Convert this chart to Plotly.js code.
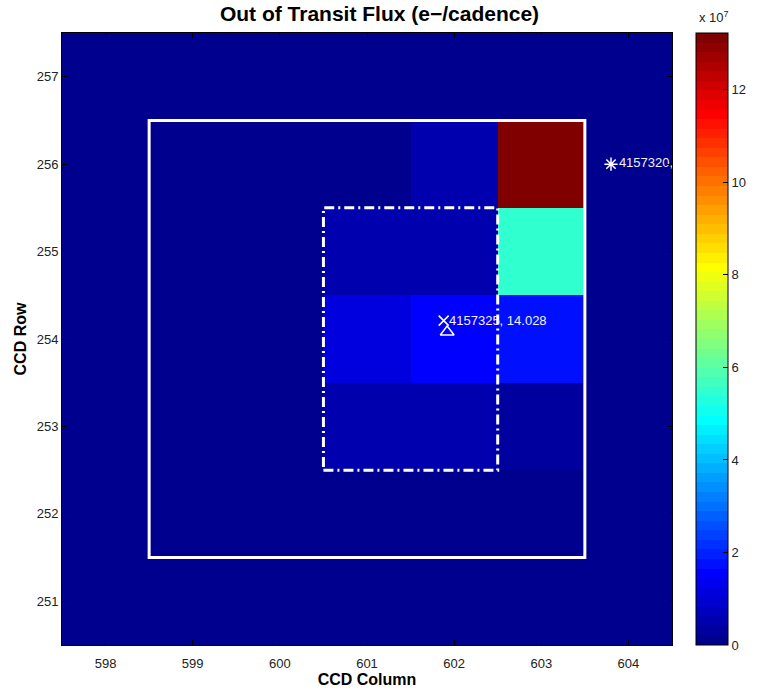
<!DOCTYPE html>
<html>
<head>
<meta charset="utf-8">
<script src="https://cdn.plot.ly/plotly-3.0.1.min.js"></script>
<style>html,body{margin:0;padding:0;background:#fff;}#chart{width:759px;height:690px;}</style>
</head>
<body>
<div id="chart"></div>
<script>
// ---- data ----
const ccdColumns = [598, 599, 600, 601, 602, 603, 604];
const ccdRows = [251, 252, 253, 254, 255, 256, 257];
const row251 = [2.1e5, 2.3e5, 2.4e5, 2.6e5, 2.5e5, 2.7e5, 2.2e5];
const row252 = [2.3e5, 3.1e5, 4.0e5, 6.2e5, 7.5e5, 8.1e5, 3.0e5];
const row253 = [2.5e5, 3.4e5, 6.8e5, 4.9e6, 5.4e6, 3.0e6, 3.6e5];
const row254 = [3.0e5, 4.0e5, 1.2e6, 1.05e7, 1.55e7, 1.8e7, 3.5e5];
const row255 = [2.8e5, 3.6e5, 9.0e5, 5.1e6, 5.3e6, 5.5e7, 4.0e5];
const row256 = [2.5e5, 3.3e5, 6.0e5, 1.6e6, 4.8e6, 1.323e8, 5.0e5];
const row257 = [2.2e5, 2.5e5, 2.7e5, 3.0e5, 3.2e5, 3.9e5, 2.9e5];
const fluxMax = 1.323e8;
const cbTickVals = [0, 2e7, 4e7, 6e7, 8e7, 10e7, 12e7];
const cbTickText = ['0', '2', '4', '6', '8', '10', '12'];
const targetCol = [601.88];
const targetRow = [254.21];
const targetLabel = ['4157325, 14.028'];
const centroidCol = [601.92];
const centroidRow = [254.08];
const neighborCol = [603.80];
const neighborRow = [256.0];
const neighborLabel = ['4157320,'];
const apertureBox = {x0: 598.5, x1: 603.5, y0: 251.5, y1: 256.5};
const optimalBox = {x0: 600.5, x1: 602.5, y0: 252.5, y1: 255.5};

// MATLAB jet(64)
function jet(m) {
  const n = Math.ceil(m / 4);
  const u = [];
  for (let i = 1; i <= n; i++) u.push(i / n);
  for (let i = 1; i < n; i++) u.push(1);
  for (let i = n; i >= 1; i--) u.push(i / n);
  const off = Math.ceil(n / 2) - (m % 4 === 1 ? 1 : 0);
  let g = u.map((_, k) => off + k + 1);
  let r = g.map(v => v + n).filter(v => v <= m);
  let b = g.map(v => v - n).filter(v => v >= 1);
  g = g.filter(v => v <= m);
  const J = Array.from({length: m}, () => [0, 0, 0]);
  r.forEach((idx, k) => { J[idx - 1][0] = u[k]; });
  g.forEach((idx, k) => { J[idx - 1][1] = u[k]; });
  b.forEach((idx, k) => { J[idx - 1][2] = u[u.length - b.length + k]; });
  return J;
}
const J = jet(64);
const colorscale = [];
J.forEach((c, i) => {
  const col = 'rgb(' + c.map(v => Math.round(v * 255)).join(',') + ')';
  colorscale.push([i / 64, col]);
  colorscale.push([(i + 1) / 64, col]);
});

const font = 'Liberation Sans, Arial, Helvetica, sans-serif';

const traces = [
  {
    type: 'heatmap',
    x: ccdColumns,
    y: ccdRows,
    z: [row251, row252, row253, row254, row255, row256, row257],
    zmin: 0, zmax: fluxMax,
    colorscale: colorscale,
    zsmooth: false,
    hoverinfo: 'skip',
    colorbar: {
      x: 1.0393, xanchor: 'left', xref: 'paper',
      y: 0.5, yanchor: 'middle', len: 1, lenmode: 'fraction',
      thickness: 32, thicknessmode: 'pixels',
      outlinewidth: 1, outlinecolor: '#000',
      tickvals: cbTickVals, ticktext: cbTickText,
      ticks: 'inside', ticklen: 5, tickcolor: '#000', tickwidth: 1,
      tickfont: {family: font, size: 13, color: '#222'},
      xpad: 0, ypad: 0
    }
  },
  {
    type: 'scatter', mode: 'markers',
    x: targetCol, y: targetRow,
    marker: {symbol: 'x-thin-open', size: 10, color: '#fff', line: {color: '#fff', width: 1.5}},
    showlegend: false, hoverinfo: 'skip'
  },
  {
    type: 'scatter', mode: 'markers',
    x: centroidCol, y: centroidRow,
    marker: {symbol: 'triangle-up-open', size: 12, color: '#fff', line: {color: '#fff', width: 1.5}},
    showlegend: false, hoverinfo: 'skip'
  },
  {
    type: 'scatter', mode: 'markers+text',
    x: neighborCol, y: neighborRow, text: neighborLabel,
    textposition: 'middle right',
    textfont: {family: font, size: 13, color: '#f0f0f0'},
    marker: {symbol: 'asterisk-open', size: 11, color: '#fff', line: {color: '#fff', width: 1.5}},
    showlegend: false, hoverinfo: 'skip', cliponaxis: true
  }
];

const layout = {
  width: 759, height: 690,
  margin: {l: 62, r: 87, t: 33, b: 45, autoexpand: false},
  paper_bgcolor: '#fff', plot_bgcolor: '#fff',
  showlegend: false,
  title: {text: '<b>Out of Transit Flux (e\u2212/cadence)</b>', x: 0.5, xanchor: 'center', y: 0.98, yanchor: 'middle',
          font: {family: font, size: 21, color: '#000'}},
  xaxis: {
    range: [597.5, 604.5], tickvals: ccdColumns, ticks: 'inside', ticklen: 5, tickcolor: '#000',
    mirror: 'ticks', showline: true, linecolor: '#000', linewidth: 1, showgrid: false, zeroline: false,
    tickfont: {family: font, size: 13, color: '#222'}, ticklabelstandoff: 6,
    title: {text: '<b>CCD Column</b>', font: {family: font, size: 16, color: '#000'}, standoff: 3}
  },
  yaxis: {
    range: [250.5, 257.5], tickvals: ccdRows, ticks: 'inside', ticklen: 5, tickcolor: '#000',
    mirror: 'ticks', showline: true, linecolor: '#000', linewidth: 1, showgrid: false, zeroline: false,
    tickfont: {family: font, size: 13, color: '#222'},
    title: {text: '<b>CCD Row</b>', font: {family: font, size: 16, color: '#000'}, standoff: 6}
  },
  shapes: [
    {type: 'rect', xref: 'x', yref: 'y', x0: apertureBox.x0, x1: apertureBox.x1, y0: apertureBox.y0, y1: apertureBox.y1,
     line: {color: '#fff', width: 3}},
    {type: 'rect', xref: 'x', yref: 'y', x0: optimalBox.x0, x1: optimalBox.x1, y0: optimalBox.y0, y1: optimalBox.y1,
     line: {color: '#fff', width: 3, dash: '10px,4px,2px,4px'}}
  ],
  annotations: [
    {xref: 'x', yref: 'y', x: targetCol[0], y: targetRow[0], xanchor: 'left', yanchor: 'middle', xshift: 3, showarrow: false,
     text: targetLabel[0], font: {family: font, size: 13, color: '#f0f0f0'}},
    {xref: 'paper', yref: 'paper', x: 1.069, y: 1.01, xanchor: 'center', yanchor: 'bottom', showarrow: false,
     text: 'x 10<sup>7</sup>', font: {family: font, size: 13, color: '#222'}}
  ]
};

Plotly.newPlot('chart', traces, layout, {displayModeBar: false, staticPlot: true});
</script>
</body>
</html>
